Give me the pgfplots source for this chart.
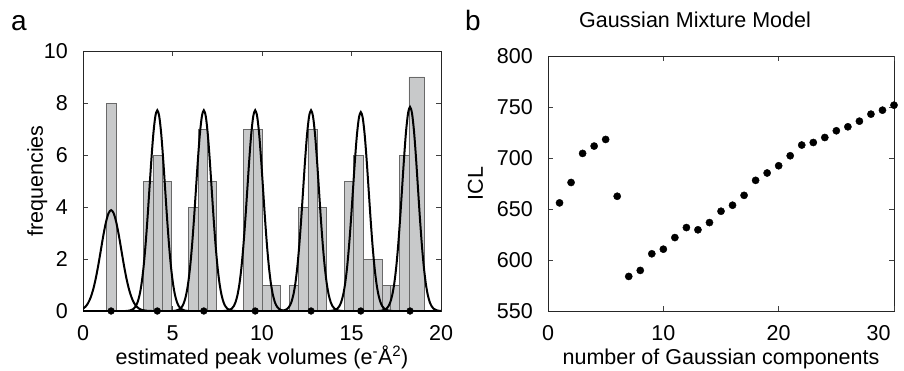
\documentclass[border=0pt]{standalone}
\usepackage{pgfplots}
\pgfplotsset{compat=1.18}
\usepackage{fontspec}
\setmainfont{Liberation Sans}
\definecolor{barfill}{RGB}{200,201,202}
\definecolor{baredge}{RGB}{105,105,105}
\pgfplotsset{
  matstyle/.style={
    scale only axis,
    anchor=south west,
    font=\fontsize{21.5}{25}\selectfont,
    /pgf/number format/assume math mode=true,
    tick align=inside,
    xtick pos=both, ytick pos=both,
    xticklabel pos=lower, yticklabel pos=left,
    major tick length=5pt,
    tick style={black!75, line width=0.5pt},
    axis line style={black!85, line width=0.7pt},
    clip mode=individual,
    xticklabel style={anchor=base, yshift=-29pt},
    yticklabel style={anchor=east, inner sep=0pt, xshift=-15pt},
    xlabel style={at={(axis description cs:0.5,0)}, anchor=base, yshift=-53pt},
  }
}
\begin{document}
\begin{tikzpicture}[x=1pt,y=1pt]
\useasboundingbox (0,0) rectangle (904,370);
\node[anchor=base west, font=\fontsize{28}{32}\selectfont, inner sep=0pt] at (11,339) {a};
\node[anchor=base west, font=\fontsize{28}{32}\selectfont, inner sep=0pt] at (465,339) {b};
\node[font=\fontsize{21.5}{25}\selectfont, inner sep=0pt] at (695,350) {Gaussian Mixture Model};

\begin{axis}[matstyle,
  at={(83pt,59pt)}, width=358pt, height=260pt,
  xmin=0, xmax=20, ymin=0, ymax=10,
  xtick={0,5,10,15,20}, ytick={0,2,4,6,8,10},
  xlabel={estimated peak volumes (e\textsuperscript{-}Å\textsuperscript{2})},
  ylabel={frequencies},
  ylabel style={at={(axis description cs:-0.112,0.5)}, anchor=base},
]
\addplot[ybar interval, fill=barfill, draw=baredge, line width=0.6pt] coordinates {
(1.285,8) (1.845,0) (3.37,5) (3.90,6) (4.42,5) (4.92,0) (5.91,4) (6.43,7) (6.93,5) (7.45,0)
(8.96,7) (9.49,7) (10.01,1) (10.51,1) (11.03,0) (11.52,1) (12.04,4) (12.56,7) (13.08,4) (13.59,0)
(14.59,5) (15.11,6) (15.67,2) (16.19,2) (16.70,1) (17.19,1) (17.69,6) (18.21,9) (19.07,0)
};
% Gaussian mixture components
\addplot[black, line width=2pt, smooth] coordinates {
(-0.71,0.001) (-0.425,0.009) (-0.14,0.043) (0.0025,0.088) (0.145,0.170) (0.2875,0.309) (0.43,0.525) (0.5725,0.839) (0.715,1.260) (0.8575,1.776) (1.0,2.353) (1.1425,2.929) (1.285,3.424) (1.4275,3.760) (1.57,3.88)
(1.7125,3.760) (1.855,3.424) (1.9975,2.929) (2.14,2.353) (2.2825,1.776) (2.425,1.260) (2.5675,0.839) (2.71,0.525) (2.8525,0.309) (2.995,0.170) (3.1375,0.088) (3.28,0.043) (3.565,0.009) (3.85,0.001)
};
\addplot[black, line width=2pt, smooth] coordinates {
(2.39,0.002) (2.61,0.017) (2.83,0.086) (2.94,0.176) (3.05,0.339) (3.16,0.615) (3.27,1.045) (3.38,1.670) (3.49,2.507) (3.60,3.534) (3.71,4.682) (3.82,5.827) (3.93,6.813) (4.04,7.482) (4.15,7.72)
(4.26,7.482) (4.37,6.813) (4.48,5.827) (4.59,4.682) (4.70,3.534) (4.81,2.507) (4.92,1.670) (5.03,1.045) (5.14,0.615) (5.25,0.339) (5.36,0.176) (5.47,0.086) (5.69,0.017) (5.91,0.002)
};
\addplot[black, line width=2pt, smooth] coordinates {
(4.99,0.002) (5.21,0.017) (5.43,0.086) (5.54,0.176) (5.65,0.339) (5.76,0.615) (5.87,1.045) (5.98,1.670) (6.09,2.507) (6.20,3.534) (6.31,4.682) (6.42,5.827) (6.53,6.813) (6.64,7.482) (6.75,7.72)
(6.86,7.482) (6.97,6.813) (7.08,5.827) (7.19,4.682) (7.30,3.534) (7.41,2.507) (7.52,1.670) (7.63,1.045) (7.74,0.615) (7.85,0.339) (7.96,0.176) (8.07,0.086) (8.29,0.017) (8.51,0.002)
};
\addplot[black, line width=2pt, smooth] coordinates {
(7.86,0.002) (8.08,0.017) (8.30,0.086) (8.41,0.176) (8.52,0.339) (8.63,0.615) (8.74,1.045) (8.85,1.670) (8.96,2.507) (9.07,3.534) (9.18,4.682) (9.29,5.827) (9.40,6.813) (9.51,7.482) (9.62,7.72)
(9.73,7.482) (9.84,6.813) (9.95,5.827) (10.06,4.682) (10.17,3.534) (10.28,2.507) (10.39,1.670) (10.50,1.045) (10.61,0.615) (10.72,0.339) (10.83,0.176) (10.94,0.086) (11.16,0.017) (11.38,0.002)
};
\addplot[black, line width=2pt, smooth] coordinates {
(10.98,0.002) (11.20,0.017) (11.42,0.086) (11.53,0.176) (11.64,0.339) (11.75,0.615) (11.86,1.045) (11.97,1.670) (12.08,2.507) (12.19,3.534) (12.30,4.682) (12.41,5.827) (12.52,6.813) (12.63,7.482) (12.74,7.72)
(12.85,7.482) (12.96,6.813) (13.07,5.827) (13.18,4.682) (13.29,3.534) (13.40,2.507) (13.51,1.670) (13.62,1.045) (13.73,0.615) (13.84,0.339) (13.95,0.176) (14.06,0.086) (14.28,0.017) (14.50,0.002)
};
\addplot[black, line width=2pt, smooth] coordinates {
(13.76,0.002) (13.98,0.017) (14.20,0.085) (14.31,0.174) (14.42,0.336) (14.53,0.609) (14.64,1.035) (14.75,1.655) (14.86,2.484) (14.97,3.502) (15.08,4.640) (15.19,5.774) (15.30,6.751) (15.41,7.414) (15.52,7.65)
(15.63,7.414) (15.74,6.751) (15.85,5.774) (15.96,4.640) (16.07,3.502) (16.18,2.484) (16.29,1.655) (16.40,1.035) (16.51,0.609) (16.62,0.336) (16.73,0.174) (16.84,0.085) (17.06,0.017) (17.28,0.002)
};
\addplot[black, line width=2pt, smooth] coordinates {
(16.51,0.002) (16.73,0.017) (16.95,0.087) (17.06,0.179) (17.17,0.345) (17.28,0.625) (17.39,1.062) (17.50,1.698) (17.61,2.549) (17.72,3.594) (17.83,4.761) (17.94,5.925) (18.05,6.928) (18.16,7.608) (18.27,7.85)
(18.38,7.608) (18.49,6.928) (18.60,5.925) (18.71,4.761) (18.82,3.594) (18.93,2.549) (19.04,1.698) (19.15,1.062) (19.26,0.625) (19.37,0.345) (19.48,0.179) (19.59,0.087) (19.81,0.017) (20.03,0.002)
};
\addplot[black, line width=2.2pt] coordinates {(0,0) (20,0)};
\addplot[only marks, mark=*, mark size=3.4pt, black] coordinates {
(1.57,0) (4.15,0) (6.75,0) (9.62,0) (12.74,0) (15.52,0) (18.27,0)
};
\end{axis}

\begin{axis}[matstyle,
  at={(548pt,59pt)}, width=346pt, height=255pt,
  xmin=0, xmax=30, ymin=550, ymax=800,
  xtick={0,10,20}, ytick={550,600,650,700,750,800},
  extra x ticks={30},
  extra x tick labels={30},
  extra x tick style={xticklabel style={anchor=base east, xshift=0pt}},
  xlabel={number of Gaussian components},
  ylabel={ICL},
  ylabel style={at={(axis description cs:-0.188,0.5)}, anchor=base},
]
\addplot[only marks, mark=*, mark size=3.6pt, black] coordinates {
(1,656) (2,676) (3,704.5) (4,711.7) (5,718.2) (6,662.5) (7,583.9) (8,589.8) (9,606.1) (10,610.6)
(11,622) (12,631.8) (13,629.6) (14,636.7) (15,647.8) (16,653.7) (17,663.4) (18,678.1) (19,685.3) (20,692.4)
(21,702.2) (22,712.7) (23,715.2) (24,720.1) (25,726.7) (26,730.6) (27,736.1) (28,743) (29,746.9) (30,751.8)
};
\end{axis}
\end{tikzpicture}
\end{document}
